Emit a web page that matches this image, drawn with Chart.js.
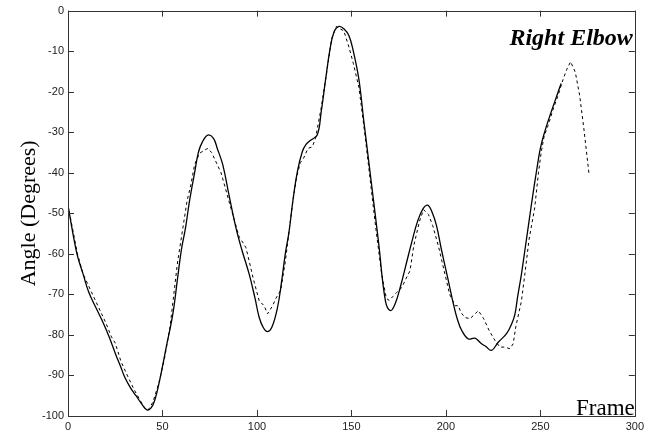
<!DOCTYPE html>
<html>
<head>
<meta charset="utf-8">
<script src="https://cdn.jsdelivr.net/npm/chart.js@4/dist/chart.umd.min.js"></script>
<style>
  html, body { margin: 0; padding: 0; background: #fff; }
  canvas { display: block; }
</style>
</head>
<body>
<canvas id="elbowChart" width="648" height="439"></canvas>
<script>
// Solid curve: frame numbers and angles
const solidFrames = [0, 3, 5, 8, 11, 15, 18.6, 21.8, 25, 28, 30, 33, 36, 39, 41.8, 44, 46, 48.5, 52, 55.5, 58, 60, 62.2, 64.3, 67, 69, 71, 74, 77, 79, 81.9, 85, 88.9, 92, 95.9, 99, 101.2, 103.5, 105.6, 108, 110.9, 113, 115, 117, 119, 121.4, 124, 126, 128.4, 131.9, 134, 136.4, 138.5, 140.7, 143.4, 146, 148.7, 151, 153.9, 156.5, 159.2, 162, 164.5, 168, 170.6, 173, 176, 179, 182, 185, 188, 190.3, 192.5, 195, 197.8, 201, 204, 206, 208.4, 211.9, 215.4, 218.9, 221, 224.2, 227.7, 232.1, 234.8, 236.5, 238, 240, 242, 244, 246, 248, 250, 252.3, 255, 259.4, 261];
const solidAngles = [-48, -56, -60.5, -65, -69.5, -73.5, -77, -80.5, -84.5, -88, -90.4, -93, -95, -97, -98.5, -98, -96, -91.2, -83, -74.8, -66, -59, -53.6, -47, -40, -35, -32.5, -30.7, -31.5, -34, -38, -45, -53.6, -59, -65, -71, -75.7, -78.3, -79.2, -78, -73.2, -67, -60, -54.5, -47, -39.7, -34.8, -33, -32, -30.7, -25, -16.8, -10, -5.4, -3.9, -4.5, -6.2, -10, -16.8, -27, -37.3, -48, -57.7, -71.6, -74, -72.5, -68, -62.5, -57, -52, -48.8, -48, -49.5, -53, -59.3, -66, -72.4, -76, -78.9, -81, -80.8, -82.2, -82.8, -83.8, -81.8, -79.7, -77.3, -75, -70.5, -65, -58.5, -52, -45.5, -39.5, -34, -29.9, -26, -20.1, -18];

// Dashed curve: frame numbers and angles
const dashedFrames = [0, 5, 8, 12, 16, 20, 23, 25, 28, 31.8, 35, 38, 40.5, 42.5, 45, 48, 51, 54, 56, 58, 60.8, 63, 65, 67, 69.6, 72, 74, 76, 78, 81, 84, 87, 90.7, 93, 94.2, 96, 98, 101.2, 103.8, 105.6, 108.3, 110, 112.6, 115, 117, 119, 121, 123, 124.7, 127, 129.3, 131, 134, 137, 139.5, 142, 144, 146, 148.7, 151, 154, 157, 160, 163, 166, 168.5, 170, 172, 174, 176.7, 179, 181, 183, 186, 188.2, 190.8, 193, 196, 199, 202, 204.9, 206.6, 208, 210.1, 212.8, 215, 217.2, 220, 223, 226, 228.6, 231, 233.9, 235.6, 237, 240, 241.8, 244, 247, 249, 250.5, 252, 254.1, 257, 259.4, 262, 264, 266, 268.5, 270.8, 273, 275.7];
const dashedAngles = [-48, -60, -65, -69, -73, -77, -80.5, -82, -86.5, -90.4, -93.5, -96, -98, -98.5, -96.5, -92, -86, -78, -70, -62, -53.6, -47, -43, -38, -35.2, -34.5, -34, -35, -37, -40, -45, -50, -56, -57.5, -58.5, -62, -66, -71.6, -72.8, -74.8, -72.8, -71, -69, -62, -54.4, -47, -41, -37.5, -36.4, -34, -33.6, -31.5, -24, -15, -7, -3.9, -4.5, -5, -9, -13, -19, -30, -42, -54, -65, -71, -71.5, -70.5, -69.5, -68.3, -66, -64.2, -58, -52, -49.1, -50.3, -53, -58, -64, -70, -72.8, -72.8, -74.5, -75.7, -76, -75, -74, -76, -79, -81.4, -83, -83, -83.4, -82.2, -78, -71.6, -65, -56.5, -48.7, -40, -34.8, -31, -28.3, -24, -20.9, -17, -14.5, -12.6, -15.2, -20.9, -29, -40.1];

// Axis ticks
const xTicks = [0, 50, 100, 150, 200, 250, 300];
const yTicks = [0, -10, -20, -30, -40, -50, -60, -70, -80, -90, -100];

const toPoints = (xs, ys) => xs.map((x, i) => ({ x: x, y: ys[i] }));

// Box round the plot with inward ticks, plus the in-plot texts
const framePlugin = {
    id: 'framePlugin',
    afterDraw(chart) {
        const { ctx, chartArea: a, scales: { x, y } } = chart;
        ctx.save();
        ctx.strokeStyle = '#333';
        ctx.lineWidth = 1;
        ctx.strokeRect(Math.round(a.left) + 0.5, Math.round(a.top) + 0.5, Math.round(a.width), Math.round(a.height));
        ctx.beginPath();
        xTicks.forEach(v => {
            const px = Math.round(x.getPixelForValue(v)) + 0.5;
            ctx.moveTo(px, a.bottom); ctx.lineTo(px, a.bottom - 6);
            ctx.moveTo(px, a.top); ctx.lineTo(px, a.top + 6);
        });
        yTicks.forEach(v => {
            const py = Math.round(y.getPixelForValue(v)) + 0.5;
            ctx.moveTo(a.left, py); ctx.lineTo(a.left + 6, py);
            ctx.moveTo(a.right, py); ctx.lineTo(a.right - 6, py);
        });
        ctx.stroke();

        ctx.fillStyle = '#000';
        ctx.textAlign = 'right';
        ctx.textBaseline = 'alphabetic';
        ctx.font = 'italic bold 24px "Liberation Serif"';
        ctx.fillText('Right Elbow', a.right - 2, a.top + 34);
        ctx.font = '23px "Liberation Serif"';
        ctx.fillText('Frame', a.right, a.bottom - 1);
        ctx.restore();
    }
};

new Chart(document.getElementById('elbowChart'), {
    type: 'line',
    data: {
        datasets: [
            {
                label: 'Solid',
                data: toPoints(solidFrames, solidAngles),
                borderColor: '#000',
                borderWidth: 1.3,
                pointRadius: 0,
                tension: 0.4,
                fill: false
            },
            {
                label: 'Dashed',
                data: toPoints(dashedFrames, dashedAngles),
                borderColor: '#000',
                borderWidth: 1,
                borderDash: [3, 3],
                pointRadius: 0,
                tension: 0,
                fill: false
            }
        ]
    },
    options: {
        responsive: false,
        animation: false,
        layout: { padding: { top: 8, right: 11, bottom: 0, left: 0 } },
        plugins: {
            legend: { display: false },
            tooltip: { enabled: false }
        },
        scales: {
            x: {
                type: 'linear',
                min: 0,
                max: 300,
                afterBuildTicks: s => { s.ticks = xTicks.map(v => ({ value: v })); },
                afterFit: s => { s.height = 23; },
                grid: { display: false, drawTicks: false },
                border: { display: false },
                ticks: { color: '#222', padding: 4, font: { family: 'Liberation Sans', size: 11 } }
            },
            y: {
                type: 'linear',
                min: -100,
                max: 0,
                afterBuildTicks: s => { s.ticks = yTicks.map(v => ({ value: v })); },
                afterFit: s => { s.width = 68; },
                grid: { display: false, drawTicks: false },
                border: { display: false },
                ticks: { color: '#222', padding: 4, font: { family: 'Liberation Sans', size: 11 } },
                title: {
                    display: true,
                    text: 'Angle (Degrees)',
                    color: '#000',
                    font: { family: 'Liberation Serif', size: 22, lineHeight: 1 },
                    padding: { top: 18, bottom: 0 }
                }
            }
        }
    },
    plugins: [framePlugin]
});
</script>
</body>
</html>
